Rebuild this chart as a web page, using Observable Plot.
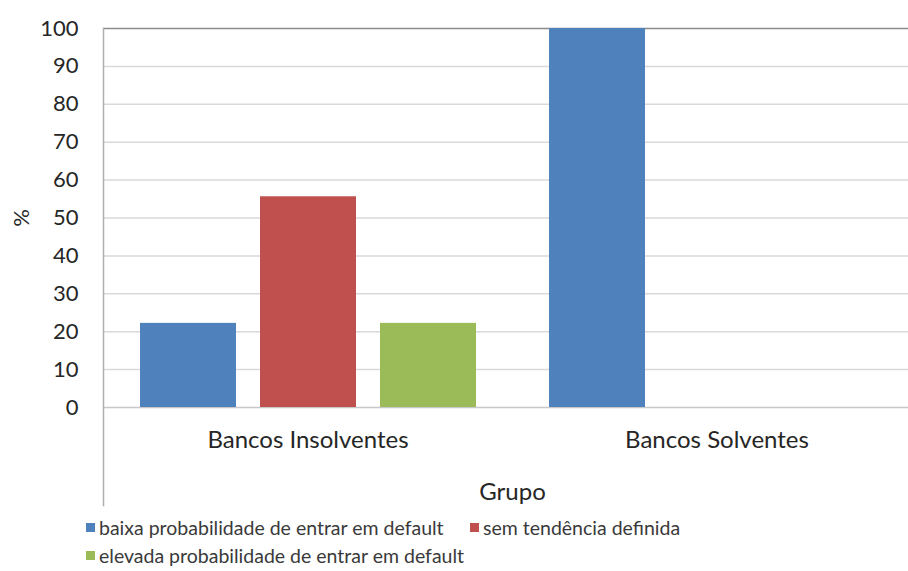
<!DOCTYPE html>
<html>
<head>
<meta charset="utf-8">
<script src="https://cdn.jsdelivr.net/npm/d3@7"></script>
<script src="https://cdn.jsdelivr.net/npm/@observablehq/plot@0.6"></script>
<style>
  html, body { margin: 0; padding: 0; background: #fff; overflow: hidden; }
  body { width: 908px; height: 571px; position: relative; font-family: Lato, "Open Sans", sans-serif; }
  #chart svg { display: block; max-width: none; }
  .legend { position: absolute; left: 86px; top: 0; font-size: 19.5px; color: #3a3a3a; font-family: Lato, sans-serif; }
  .legend .item { position: absolute; white-space: nowrap; display: flex; align-items: center; }
  .legend .sw { width: 9px; height: 9px; margin-right: 4px; display: inline-block; }
</style>
</head>
<body>
<div id="chart"></div>
<div id="legend" class="legend"></div>
<script>
const groups = ["Bancos Insolventes", "Bancos Solventes"];
const series = [
  "baixa probabilidade de entrar em default",
  "sem tendência definida",
  "elevada probabilidade de entrar em default"
];
const colors = ["#4F81BD", "#C0504D", "#9BBB59"];
const insolventes = [22.2, 55.6, 22.2];
const solventes = [100, null, null];
const yTicks = [0, 10, 20, 30, 40, 50, 60, 70, 80, 90, 100];

const data = [];
series.forEach((s, i) => {
  data.push({group: groups[0], series: s, value: insolventes[i]});
  if (solventes[i] != null) data.push({group: groups[1], series: s, value: solventes[i]});
});

const chart = Plot.plot({
  width: 921,
  height: 515,
  marginLeft: 103,
  marginRight: 0,
  marginTop: 28,
  marginBottom: 108,
  style: {fontFamily: "Lato, 'Open Sans', sans-serif", fontSize: "22px", color: "#262626", background: "#fff", overflow: "visible"},
  fx: {domain: groups, paddingInner: 0, paddingOuter: 0},
  x: {domain: series, paddingInner: 0.2, paddingOuter: 0.304, axis: null},
  y: {domain: [0, 100], ticks: yTicks},
  color: {domain: series, range: colors},
  marks: [
    Plot.ruleY(yTicks.filter(t => t > 0 && t < 100), {stroke: "#d9d9d9", strokeWidth: 1.5}),
    Plot.ruleY([0], {stroke: "#c8c8c8", strokeWidth: 1.5}),
    Plot.ruleY([100], {stroke: "#8c8c8c", strokeWidth: 1.5}),
    Plot.barY(data, {fx: "group", x: "series", y: "value", fill: "series"}),
    Plot.frame({anchor: "left", facetAnchor: "left", stroke: "#b0b0b0", strokeWidth: 1.5, insetBottom: -98}),
    Plot.axisY({ticks: yTicks, tickSize: 0, tickPadding: 25, label: "%", labelAnchor: "center", labelArrow: "none", labelOffset: 90, fontSize: 22}),
    Plot.axisFx({anchor: "bottom", tickSize: 0, tickPadding: 23, label: "Grupo", labelAnchor: "center", labelArrow: "none", labelOffset: 92, fontSize: 24})
  ]
});
document.getElementById("chart").appendChild(chart);

const legend = document.getElementById("legend");
const pos = [{l: 0, t: 516}, {l: 384, t: 516}, {l: 0, t: 544}];
series.forEach((s, i) => {
  const it = document.createElement("div");
  it.className = "item";
  it.style.left = (pos[i].l) + "px";
  it.style.top = pos[i].t + "px";
  it.innerHTML = `<span class="sw" style="background:${colors[i]}"></span>${s}`;
  legend.appendChild(it);
});
</script>
</body>
</html>
